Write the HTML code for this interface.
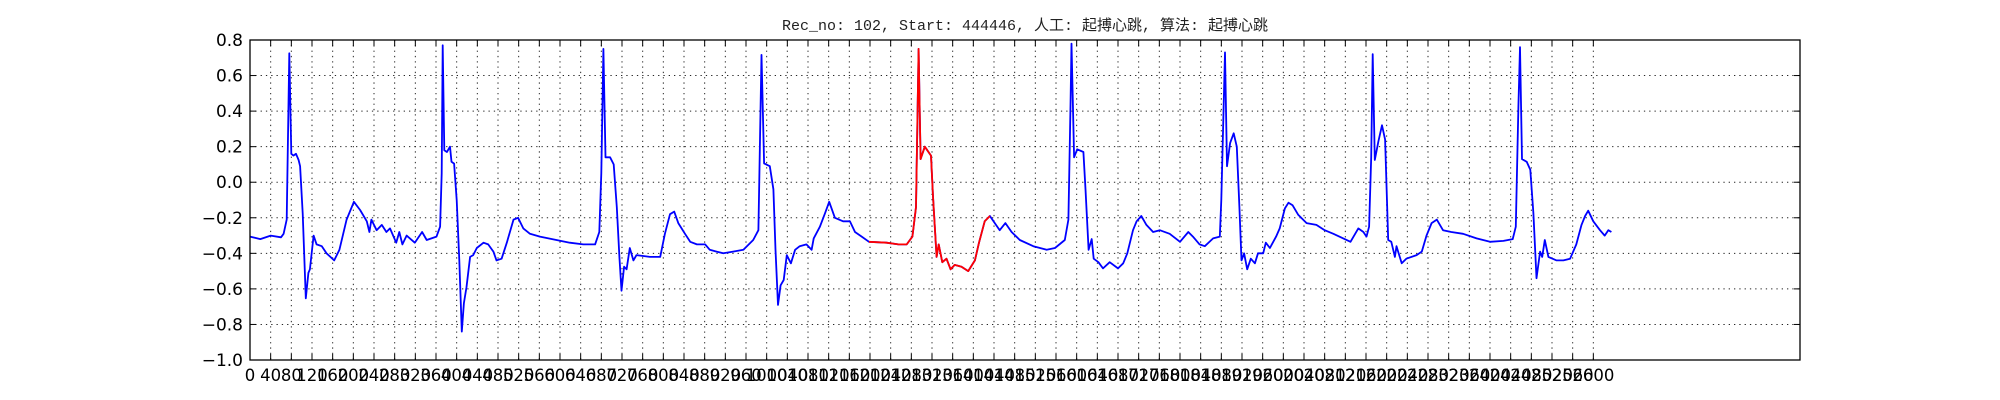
<!DOCTYPE html>
<html><head><meta charset="utf-8">
<style>
html,body{margin:0;padding:0;background:#fff;}
svg{display:block;}
</style></head>
<body>
<svg id="chart" width="2000" height="400" xmlns="http://www.w3.org/2000/svg">
<rect x="0" y="0" width="2000" height="400" fill="#fff"/>
<text x="1025" y="30" text-anchor="middle" font-family="'Liberation Mono','WenQuanYi Zen Hei',monospace" font-size="15" fill="#222">Rec_no: 102, Start: 444446, 人工: 起搏心跳, 算法: 起搏心跳</text>
<g id="grid"></g>
<g id="series"></g>
<rect x="250" y="40" width="1550" height="320" fill="none" stroke="#000" stroke-width="1.3"/>
<g id="ticks"></g>
</svg>
<script>
const sampleIdx = [0,20,40,60,65,71,76,80,84,89,94,97,102,108,113,116,123,129,139,148,163,173,187,201,213,226,231,235,245,255,264,271,283,289,295,303,319,333,342,361,368,371,373,376,381,387,390,395,400,405,410,414,419,426,432,439,452,461,471,477,487,497,510,519,529,542,561,593,619,645,668,676,680,684,688,697,704,710,715,719,724,729,735,742,748,774,794,803,813,821,829,842,852,865,881,890,903,916,935,955,974,984,987,990,995,1006,1013,1017,1022,1027,1033,1039,1047,1055,1064,1077,1087,1091,1103,1113,1121,1132,1148,1161,1171,1184,1198,1232,1255,1271,1282,1289,1294,1298,1306,1318,1322,1329,1333,1340,1348,1356,1364,1377,1390,1403,1411,1422,1432,1451,1462,1474,1490,1516,1542,1558,1577,1584,1588,1590,1595,1601,1613,1617,1623,1629,1633,1642,1651,1664,1680,1690,1698,1709,1716,1725,1735,1748,1761,1780,1800,1816,1825,1838,1848,1864,1877,1880,1887,1891,1897,1904,1910,1915,1919,1924,1930,1937,1945,1951,1961,1966,1974,1986,1993,2003,2010,2018,2029,2045,2064,2080,2097,2116,2130,2145,2155,2161,2166,2170,2173,2177,2184,2191,2197,2203,2209,2216,2219,2229,2238,2258,2268,2277,2287,2297,2309,2325,2348,2374,2400,2426,2444,2450,2455,2458,2462,2471,2478,2484,2490,2497,2501,2506,2513,2529,2542,2555,2567,2577,2584,2590,2600,2613,2622,2629,2635];
const ecgValues = [-0.306,-0.32,-0.30,-0.31,-0.29,-0.21,0.725,0.16,0.15,0.16,0.125,0.09,-0.175,-0.653,-0.51,-0.49,-0.30,-0.35,-0.36,-0.40,-0.44,-0.38,-0.21,-0.11,-0.156,-0.22,-0.28,-0.21,-0.27,-0.24,-0.28,-0.26,-0.34,-0.28,-0.35,-0.30,-0.34,-0.28,-0.325,-0.306,-0.25,0.05,0.77,0.18,0.17,0.2,0.115,0.105,-0.10,-0.44,-0.84,-0.68,-0.59,-0.42,-0.41,-0.37,-0.34,-0.35,-0.39,-0.44,-0.43,-0.34,-0.21,-0.20,-0.26,-0.29,-0.306,-0.325,-0.34,-0.35,-0.35,-0.28,0.05,0.75,0.14,0.14,0.10,-0.14,-0.42,-0.61,-0.475,-0.49,-0.37,-0.44,-0.41,-0.42,-0.42,-0.29,-0.18,-0.165,-0.23,-0.29,-0.335,-0.35,-0.35,-0.38,-0.39,-0.40,-0.39,-0.38,-0.325,-0.27,0.24,0.716,0.106,0.09,-0.04,-0.38,-0.69,-0.58,-0.55,-0.41,-0.456,-0.38,-0.36,-0.35,-0.38,-0.316,-0.25,-0.175,-0.11,-0.20,-0.22,-0.22,-0.28,-0.306,-0.335,-0.34,-0.35,-0.35,-0.306,-0.14,0.75,0.13,0.20,0.15,-0.08,-0.42,-0.35,-0.45,-0.43,-0.49,-0.465,-0.475,-0.50,-0.44,-0.34,-0.22,-0.19,-0.27,-0.23,-0.28,-0.325,-0.36,-0.38,-0.37,-0.325,-0.21,0.43,0.78,0.14,0.185,0.17,-0.04,-0.38,-0.32,-0.43,-0.45,-0.485,-0.45,-0.485,-0.456,-0.40,-0.27,-0.22,-0.19,-0.24,-0.28,-0.27,-0.29,-0.335,-0.28,-0.306,-0.35,-0.36,-0.316,-0.306,-0.10,0.73,0.09,0.22,0.275,0.2,-0.14,-0.44,-0.40,-0.49,-0.43,-0.456,-0.40,-0.40,-0.34,-0.37,-0.306,-0.26,-0.147,-0.115,-0.13,-0.184,-0.23,-0.24,-0.27,-0.29,-0.316,-0.335,-0.26,-0.28,-0.306,-0.25,0.14,0.72,0.125,0.23,0.32,0.24,-0.325,-0.335,-0.42,-0.36,-0.456,-0.43,-0.41,-0.39,-0.30,-0.23,-0.21,-0.27,-0.28,-0.29,-0.316,-0.335,-0.33,-0.32,-0.25,0.425,0.76,0.13,0.115,0.07,-0.175,-0.54,-0.39,-0.42,-0.325,-0.42,-0.44,-0.44,-0.43,-0.35,-0.24,-0.19,-0.16,-0.22,-0.27,-0.30,-0.27,-0.28];
const highlightRange = [1198, 1432];
const xTickValues = []; for (let t = 0; t <= 2600; t += 40) xTickValues.push(t);
const yTickValues = [-1.0,-0.8,-0.6,-0.4,-0.2,0.0,0.2,0.4,0.6,0.8];

const X0=250, X1=1800, Y0=360, Y1=40, XMAX=3000, YMIN=-1.0, YMAX=0.8;
const xs = v => X0 + (v/XMAX)*(X1-X0);
const ys = v => Y0 - (v-YMIN)/(YMAX-YMIN)*(Y0-Y1);
const NS='http://www.w3.org/2000/svg';
const grid=document.getElementById('grid'), ticks=document.getElementById('ticks'), series=document.getElementById('series');
function mk(tag, attrs, parent){const e=document.createElementNS(NS,tag);for(const k in attrs)e.setAttribute(k,attrs[k]);parent.appendChild(e);return e;}
const fmtY = v => (v<0?'\u2212':'') + Math.abs(v).toFixed(1);

xTickValues.forEach(t=>{
  const x=xs(t);
  const g=mk('line',{x1:x,x2:x,y1:Y1,y2:Y0,stroke:'#000','stroke-width':1,'stroke-dasharray':'1.3,4',opacity:0.85},grid);
  
  
  const a=mk('line',{x1:x,x2:x,y1:Y0,y2:Y0-6,stroke:'#000','stroke-width':1},ticks);
  
  
  const b=mk('line',{x1:x,x2:x,y1:Y1,y2:Y1+6,stroke:'#000','stroke-width':1},ticks);
  
  
  const l=mk('text',{x:x,y:381,'text-anchor':'middle','font-family':'"DejaVu Sans","Liberation Sans",sans-serif','font-size':16.5,fill:'#000'},ticks);
  l.textContent=String(t);
  
  
});
yTickValues.forEach(v=>{
  const y=ys(v);
  const g=mk('line',{x1:X0,x2:X1,y1:y,y2:y,stroke:'#000','stroke-width':1,'stroke-dasharray':'1.3,4',opacity:0.85},grid);
  
  
  const a=mk('line',{x1:X0,x2:X0+6,y1:y,y2:y,stroke:'#000','stroke-width':1},ticks);
  
  
  const b=mk('line',{x1:X1,x2:X1-6,y1:y,y2:y,stroke:'#000','stroke-width':1},ticks);
  
  
  const l=mk('text',{x:X0-7,y:y+6,'text-anchor':'end','font-family':'"DejaVu Sans","Liberation Sans",sans-serif','font-size':17,fill:'#000'},ticks);
  l.textContent=fmtY(v);
  
  
});

const ptsAll = sampleIdx.map((s,i)=>xs(s).toFixed(1)+','+ys(ecgValues[i]).toFixed(1)).join(' ');
const line=mk('polyline',{points:ptsAll,fill:'none',stroke:'#0000ff','stroke-width':1.8,'stroke-linejoin':'round'},series);


const hp=[];
sampleIdx.forEach((s,i)=>{ if(s>=highlightRange[0]&&s<=highlightRange[1]) hp.push(xs(s).toFixed(1)+','+ys(ecgValues[i]).toFixed(1)); });
const red=mk('polyline',{points:hp.join(' '),fill:'none',stroke:'#ff0000','stroke-width':1.8,'stroke-linejoin':'round'},series);


</script>
</body></html>
